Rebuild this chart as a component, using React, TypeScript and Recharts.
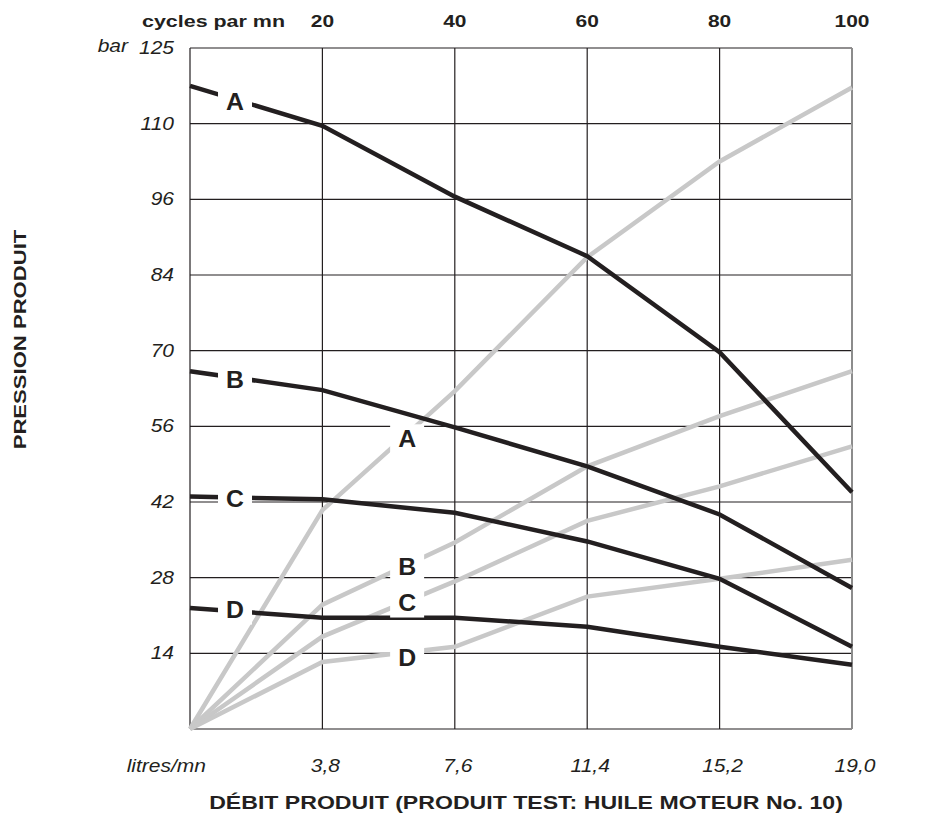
import React from 'react'
import { LineChart, Line, XAxis, YAxis, CartesianGrid, ReferenceDot, ReferenceLine, Label } from 'recharts'

// débit en cycles par mn (axe du haut) — même position que litres/mn (axe du bas)
const cycles = [0, 20, 40, 60, 80, 100]
const cycleLabels = ['cycles par mn', '20', '40', '60', '80', '100']
const litresLabels = ['litres/mn', '3,8', '7,6', '11,4', '15,2', '19,0']

// grille verticale : 9 pas égaux
const yTicks = [0, 14, 28, 42, 56, 70, 84, 98, 112, 126]
const barLabels = ['', '14', '28', '42', '56', '70', '84', '96', '110', '125']
const m3Labels = ['', '0,280', '0,560', '0,840', '1,120', '1,400', '1,680', '1,960', '2,240', '']

// pression produit (courbes noires)
const pressionA = [119, 111.6, 98.5, 87.5, 69.7, 43.8]
const pressionB = [66.2, 62.7, 55.8, 48.6, 39.7, 26.1]
const pressionC = [43.0, 42.5, 40.0, 34.7, 27.8, 15.2]
const pressionD = [22.4, 20.6, 20.6, 18.9, 15.2, 11.9]

// débit d'air m3/mn (courbes grises)
const airA = [0, 40.5, 62.5, 87.3, 105, 118.7]
const airB = [0, 23.0, 34.5, 48.6, 57.9, 66.2]
const airC = [0, 17.1, 27.3, 38.5, 44.9, 52.3]
const airD = [0, 12.4, 15.2, 24.5, 27.8, 31.3]

// repères des courbes
const curveNames = ['A', 'B', 'C', 'D']
const pressionLabelX = [6.8, 6.8, 6.8, 6.8]
const pressionLabelY = [116.1, 64.5, 42.6, 22.1]
const airLabelX = [32.8, 32.8, 32.8, 32.8]
const airLabelY = [53.6, 30.0, 23.4, 13.2]

const data = cycles.map((c, i) => ({
  cycles: c,
  pA: pressionA[i],
  pB: pressionB[i],
  pC: pressionC[i],
  pD: pressionD[i],
  aA: airA[i],
  aB: airB[i],
  aC: airC[i],
  aD: airD[i],
}))

const FONT = '"Liberation Sans", Arial, Helvetica, sans-serif'
const INK = '#231f20'
const GRAY = '#c8c8c8'

// le texte de l'original est plus large que Arial : on l'étire horizontalement
const SText = ({ x, y, sx = 1, rotate = 0, anchor = 'middle', bold = false, italic = false, size = 17, children }: any) => (
  <text
    transform={`translate(${x} ${y})${rotate ? ` rotate(${rotate})` : ''} scale(${sx} 1)`}
    x={0}
    y={0}
    textAnchor={anchor}
    fontFamily={FONT}
    fontWeight={bold ? 'bold' : 'normal'}
    fontStyle={italic ? 'italic' : 'normal'}
    fontSize={size}
    fill={INK}
  >
    {children}
  </text>
)

const TopTick = (props: any) => {
  const { x, y, payload } = props
  const i = cycles.indexOf(payload.value)
  if (i === 0) {
    return <SText x={x + 95} y={y} anchor="end" bold size={16.5} sx={1.3}>{cycleLabels[i]}</SText>
  }
  return <SText x={x} y={y} bold size={16.5} sx={1.27}>{cycleLabels[i]}</SText>
}

const BottomTick = (props: any) => {
  const { x, y, payload } = props
  const i = cycles.indexOf(payload.value)
  return (
    <SText x={i === 0 ? x + 16 : x + 3} y={y} anchor={i === 0 ? 'end' : 'middle'} italic size={17.5} sx={1.2}>
      {litresLabels[i]}
    </SText>
  )
}

const LeftTick = (props: any) => {
  const { x, y, payload } = props
  const i = yTicks.indexOf(payload.value)
  return (
    <g>
      <SText x={x} y={y + 6} anchor="end" italic size={17.5} sx={1.2}>{barLabels[i]}</SText>
      {i === yTicks.length - 1 && (
        <SText x={x - 46} y={y + 4} anchor="end" italic size={17.5} sx={1.2}>bar</SText>
      )}
    </g>
  )
}

const RightTick = (props: any) => {
  const { x, y, payload } = props
  const i = yTicks.indexOf(payload.value)
  if (i === yTicks.length - 1) {
    return (
      <SText x={x} y={y + 28} anchor="start" italic size={17.5} sx={1.2}>
        m<tspan dy={-7} fontSize={11}>3</tspan>
        <tspan dy={7}>/mn</tspan>
      </SText>
    )
  }
  return <SText x={x} y={y + 6} anchor="start" italic size={17.5} sx={1.2}>{m3Labels[i]}</SText>
}

const CurveTag = (props: any) => {
  const { cx, cy, name } = props
  return (
    <g>
      <rect x={cx - 17} y={cy - 15} width={34} height={30} fill="#ffffff" />
      <SText x={cx} y={cy + 8} bold size={23} sx={1.08}>{name}</SText>
    </g>
  )
}

const LeftTitle = (props: any) => {
  const { viewBox } = props
  return (
    <SText x={viewBox.x + 26} y={viewBox.y + viewBox.height / 2 - 49} rotate={-90} bold size={17} sx={1.3}>
      PRESSION PRODUIT
    </SText>
  )
}

const BottomTitle = (props: any) => {
  const { viewBox } = props
  return (
    <SText x={viewBox.x + viewBox.width / 2 + 5} y={viewBox.y + viewBox.height - 5} bold size={17.5} sx={1.32}>
      DÉBIT PRODUIT (PRODUIT TEST: HUILE MOTEUR No. 10)
    </SText>
  )
}

export default function App() {
  return (
    <div style={{ position: 'absolute', left: 0, top: 0, width: 931, height: 814, background: '#fff' }}>
      <LineChart width={931} height={814} data={data} margin={{ top: 10, right: 9, bottom: 0, left: 0 }}>
        <CartesianGrid stroke={INK} strokeWidth={1.2} xAxisId="bottom" yAxisId="bar" />
        <XAxis
          xAxisId="bottom"
          dataKey="cycles"
          type="number"
          domain={[0, 100]}
          ticks={cycles}
          orientation="bottom"
          height={85}
          tickSize={0}
          tickMargin={43}
          axisLine={false}
          tickLine={false}
          tick={<BottomTick />}
          interval={0}
        >
          <Label content={<BottomTitle />} />
        </XAxis>
        <XAxis
          xAxisId="top"
          dataKey="cycles"
          type="number"
          domain={[0, 100]}
          ticks={cycles}
          orientation="top"
          height={38}
          tickSize={0}
          tickMargin={21}
          axisLine={false}
          tickLine={false}
          tick={<TopTick />}
          interval={0}
        />
        <YAxis
          yAxisId="bar"
          type="number"
          domain={[0, 126]}
          ticks={yTicks}
          orientation="left"
          width={190}
          tickSize={0}
          tickMargin={16}
          axisLine={false}
          tickLine={false}
          tick={<LeftTick />}
          interval={0}
        >
          <Label content={<LeftTitle />} />
        </YAxis>
        <YAxis
          yAxisId="m3"
          type="number"
          domain={[0, 126]}
          ticks={yTicks}
          orientation="right"
          width={70}
          tickSize={0}
          tickMargin={16}
          axisLine={false}
          tickLine={false}
          tick={<RightTick />}
          interval={0}
        />

        <ReferenceLine xAxisId="bottom" yAxisId="bar" x={100} stroke="#8c8c8c" strokeWidth={2} />

        <Line xAxisId="bottom" yAxisId="bar" dataKey="aA" stroke={GRAY} strokeWidth={4.5} dot={false} isAnimationActive={false} />
        <Line xAxisId="bottom" yAxisId="bar" dataKey="aB" stroke={GRAY} strokeWidth={4.5} dot={false} isAnimationActive={false} />
        <Line xAxisId="bottom" yAxisId="bar" dataKey="aC" stroke={GRAY} strokeWidth={4.5} dot={false} isAnimationActive={false} />
        <Line xAxisId="bottom" yAxisId="bar" dataKey="aD" stroke={GRAY} strokeWidth={4.5} dot={false} isAnimationActive={false} />

        <Line xAxisId="bottom" yAxisId="bar" dataKey="pA" stroke={INK} strokeWidth={4.5} dot={false} isAnimationActive={false} />
        <Line xAxisId="bottom" yAxisId="bar" dataKey="pB" stroke={INK} strokeWidth={4.5} dot={false} isAnimationActive={false} />
        <Line xAxisId="bottom" yAxisId="bar" dataKey="pC" stroke={INK} strokeWidth={4.5} dot={false} isAnimationActive={false} />
        <Line xAxisId="bottom" yAxisId="bar" dataKey="pD" stroke={INK} strokeWidth={4.5} dot={false} isAnimationActive={false} />

        {curveNames.map((n, i) => (
          <ReferenceDot
            key={'p' + n}
            xAxisId="bottom"
            yAxisId="bar"
            x={pressionLabelX[i]}
            y={pressionLabelY[i]}
            shape={(p: any) => <CurveTag {...p} name={n} />}
          />
        ))}
        {curveNames.map((n, i) => (
          <ReferenceDot
            key={'a' + n}
            xAxisId="bottom"
            yAxisId="bar"
            x={airLabelX[i]}
            y={airLabelY[i]}
            shape={(p: any) => <CurveTag {...p} name={n} />}
          />
        ))}
      </LineChart>
    </div>
  )
}
